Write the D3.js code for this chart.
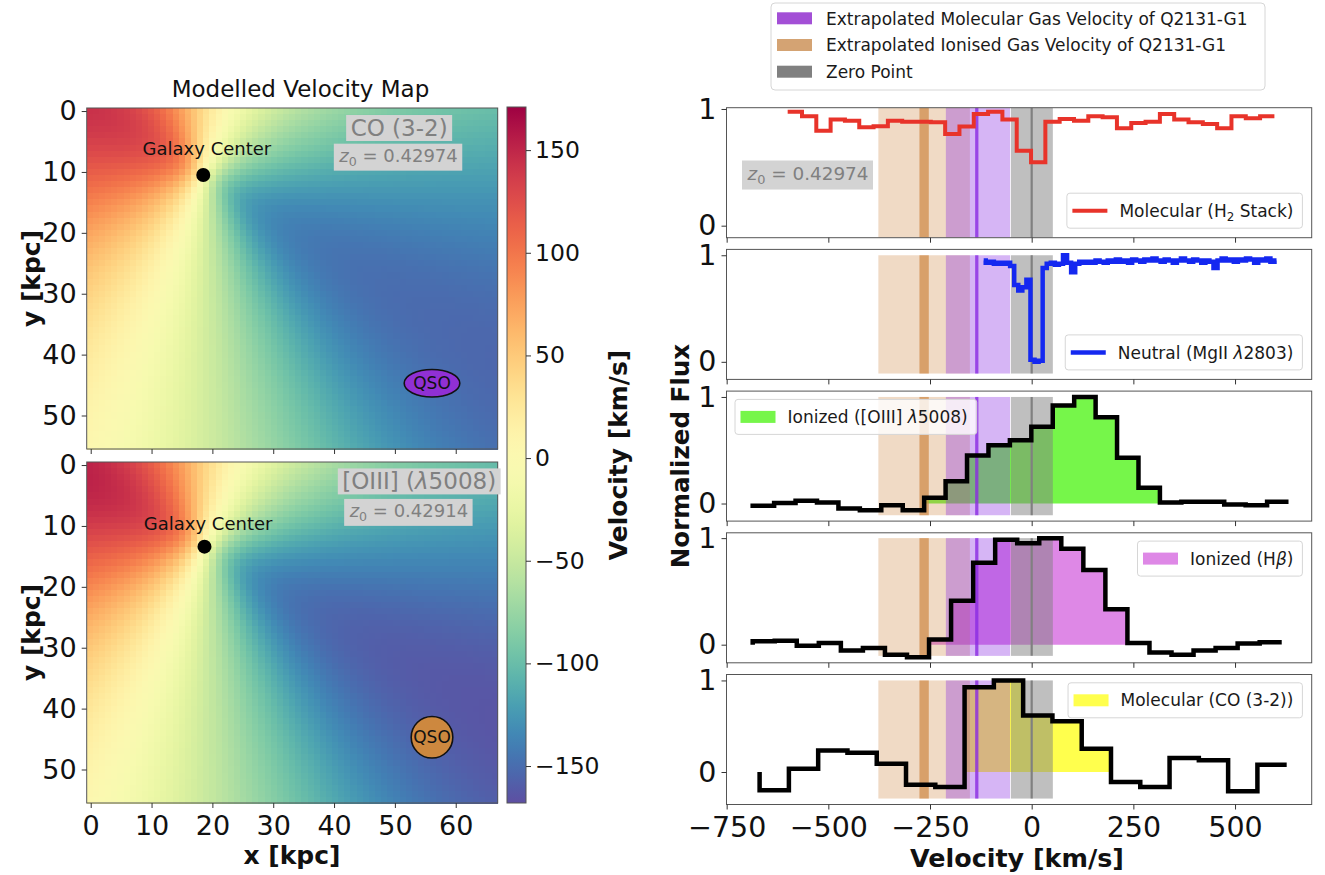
<!DOCTYPE html>
<html>
<head>
<meta charset="utf-8">
<script src="https://cdn.jsdelivr.net/npm/d3@7"></script>
<style>
  body { margin: 0; background: #fff; }
  svg text { font-family: "DejaVu Sans", sans-serif; }
</style>
</head>
<body>
<svg id="fig" width="1325" height="875"></svg>
<script>
/* ---------- Data ---------- */

// modelled disc for the two velocity maps (kpc, deg, km/s)
var mapNames = [[["CO (3-2)", ""]], [["[OIII] (", ""], ["λ", "it"], ["5008)", ""]]];
var mapZ0 = ["0.42974", "0.42914"];
var mapCentre = [[18.5, 10.5], [18.7, 13.4]];
var mapMajorAngle = [32, 30];     // receding->approaching axis, deg below +x
var mapMinorAngle = [110, 112];   // zero-velocity line, deg below +x
var mapInc = [45, 45];
var mapVsini = [160, 172];
var mapRturn = [3.5, 4];
var qsoPos = [56.1, 44.7];
var velRange = [-168, 171];
var cbarTicks = [-150, -100, -50, 0, 50, 100, 150];
var kpcXTicks = [0, 10, 20, 30, 40, 50, 60];
var kpcYTicks = [0, 10, 20, 30, 40, 50];

// spectra: first bin edge, bin width (km/s), normalised flux per bin
var h2Start = -600, h2Width = 35.2;
var h2Flux = [0.977, 0.937, 0.814, 0.91, 0.90, 0.843, 0.851, 0.90, 0.891, 0.891,
              0.886, 0.786, 0.849, 0.957, 0.977, 0.909, 0.643, 0.543, 0.891, 0.914,
              0.90, 0.937, 0.929, 0.834, 0.88, 0.891, 0.957, 0.909, 0.886, 0.871,
              0.834, 0.937, 0.92, 0.937];

var mgStart = -118, mgStep = 10;
var mgFlux = [0.95, 0.93, 0.94, 0.92, 0.93, 0.92, 0.93, 0.90, 0.72, 0.67,
              0.70, 0.77, 0.02, 0.00, 0.01, 0.88, 0.92, 0.93, 0.91, 0.92,
              1.00, 0.93, 0.84, 0.92, 0.94, 0.93, 0.94, 0.93, 0.95, 0.94,
              0.93, 0.95, 0.94, 0.96, 0.94, 0.95, 0.93, 0.96, 0.95, 0.94,
              0.96, 0.95, 0.97, 0.95, 0.94, 0.96, 0.95, 0.93, 0.95, 0.97,
              0.95, 0.94, 0.96, 0.95, 0.93, 0.95, 0.94, 0.88, 0.95, 0.97,
              0.95, 0.96, 0.94, 0.96, 0.95, 0.97, 0.96, 0.93, 0.96, 0.95,
              0.97, 0.94, 0.95];

var oiiiStart = -686, oiiiWidth = 52.7;
var oiiiFlux = [-0.022, 0.006, 0.025, 0.009, -0.047, -0.063, -0.016, -0.063, 0.053, 0.21,
                0.45, 0.547, 0.594, 0.72, 0.92, 1.0, 0.81, 0.43, 0.147, 0.01,
                0.016, 0.016, -0.01, -0.016, 0.016];
var oiiiFillBins = [8, 18];

var hbStart = -686, hbWidth = 54.2;
var hbFlux = [0.032, 0.038, -0.01, 0.016, -0.054, -0.032, -0.095, -0.117, 0.048, 0.413,
              0.77, 0.984, 0.952, 1.0, 0.90, 0.70, 0.333, 0.016, -0.073, -0.095,
              -0.054, -0.032, 0.01, 0.022];
var hbFillBins = [8, 16];

var coStart = -669, coWidth = 72;
var coFlux = [-0.2, 0.036, 0.236, 0.21, 0.09, -0.138, -0.164, 0.927, 1.0, 0.618,
              0.553, 0.255, -0.109, -0.164, 0.153, 0.127, -0.21, 0.08];
var coFillBins = [7, 11];

// shaded velocity ranges (km/s)
var ionisedWide = [-377, -152], ionisedCore = [-276, -253];
var molecularWide = [-211, -53], molecularCore = [-139, -131];
var zeroWide = [-51, 52], zeroPoint = 0;

var velTicks = [-750, -500, -250, 0, 250, 500];

/* ---------- Helpers ---------- */

var svg = d3.select("#fig");

function richText(txt, parts, size) {
  var shift = 0;
  parts.forEach(function(p) {
    var t = txt.append("tspan").text(p[0]);
    var target = p[1] === "sub" ? size * 0.22 : 0;
    if (target !== shift) { t.attr("dy", target - shift); shift = target; }
    if (p[1] === "sub") t.attr("font-size", size * 0.7);
    if (p[1] === "it") t.attr("font-style", "italic");
  });
}

function boxedText(g, x, y, parts, size, padX, padY) {
  var grp = g.append("g");
  var txt = grp.append("text").attr("x", x).attr("y", y)
      .attr("text-anchor", "middle").attr("font-size", size).attr("fill", "#808080");
  richText(txt, parts, size);
  var bb = txt.node().getBBox();
  grp.insert("rect", "text")
      .attr("x", bb.x - padX).attr("y", bb.y - padY)
      .attr("width", bb.width + 2 * padX).attr("height", bb.height + 2 * padY)
      .attr("fill", "#d3d3d3");
}

function styleAxis(g, size) {
  g.select(".domain").remove();
  g.selectAll(".tick line").attr("stroke", "#333");
  g.selectAll(".tick text").attr("font-size", size).attr("fill", "#111");
}

/* ---------- Left: modelled velocity maps ---------- */

var nCols = 67, nRows = 56;
var mapX = d3.scaleLinear().domain([-0.66, 66.9]).range([86.7, 497.7]);
var mapY = [
  d3.scaleLinear().domain([-0.5, 55.5]).range([108, 449]),
  d3.scaleLinear().domain([-0.5, 55.5]).range([462, 803])
];
var cellW = (66.9 + 0.66) / nCols;

var velColor = d3.scaleSequential(function(t) { return d3.interpolateSpectral(1 - t); })
    .domain(velRange).clamp(true);

// arctan rotation curve, projected onto oblique kinematic axes
function discVelocity(m, x, y) {
  var dx = x - mapCentre[m][0], dy = y - mapCentre[m][1];
  var ta = mapMajorAngle[m] * Math.PI / 180, tb = mapMinorAngle[m] * Math.PI / 180;
  var ux = Math.cos(ta), uy = Math.sin(ta), wx = Math.cos(tb), wy = Math.sin(tb);
  var det = ux * wy - wx * uy;
  var a = (dx * wy - wx * dy) / det;
  var b = (ux * dy - uy * dx) / det / Math.cos(mapInc[m] * Math.PI / 180);
  var r = Math.sqrt(a * a + b * b);
  if (r === 0) return 0;
  return -mapVsini[m] * (2 / Math.PI) * Math.atan(r / mapRturn[m]) * a / r;
}

[0, 1].forEach(function(m) {
  var y = mapY[m];
  var g = svg.append("g");
  var cells = [];
  for (var j = 0; j < nRows; j++) {
    for (var i = 0; i < nCols; i++) {
      var x0 = -0.66 + i * cellW;
      cells.push({ x0: x0, y0: j - 0.5, v: discVelocity(m, x0 + cellW / 2, j) });
    }
  }
  g.selectAll("rect.cell").data(cells).enter().append("rect")
      .attr("class", "cell")
      .attr("x", function(d) { return mapX(d.x0); })
      .attr("y", function(d) { return y(d.y0); })
      .attr("width", mapX(cellW) - mapX(0) + 0.6)
      .attr("height", y(1) - y(0) + 0.6)
      .attr("fill", function(d) { return velColor(d.v); })
      .attr("shape-rendering", "crispEdges");

  // frame
  g.append("rect")
      .attr("x", mapX.range()[0]).attr("y", y.range()[0])
      .attr("width", mapX.range()[1] - mapX.range()[0])
      .attr("height", y.range()[1] - y.range()[0])
      .attr("fill", "none").attr("stroke", "#555").attr("stroke-width", 1);

  // axes
  var ax = g.append("g").attr("transform", "translate(" + mapX.range()[0] + ",0)")
      .call(d3.axisLeft(y).tickValues(kpcYTicks).tickSize(5).tickPadding(5));
  styleAxis(ax, 27);
  var bx = g.append("g").attr("transform", "translate(0," + y.range()[1] + ")")
      .call(d3.axisBottom(mapX).tickValues(kpcXTicks).tickSize(5).tickPadding(8));
  styleAxis(bx, 27);
  if (m === 0) bx.selectAll(".tick text").remove();

  // galaxy centre
  var c = mapCentre[m];
  g.append("circle").attr("cx", mapX(c[0])).attr("cy", y(c[1])).attr("r", 7).attr("fill", "#000");
  g.append("text").attr("x", mapX(c[0] + 0.6)).attr("y", y(c[1] - (m === 0 ? 3.3 : 2.7)))
      .attr("text-anchor", "middle").attr("font-size", 18).attr("fill", "#111")
      .text("Galaxy Center");

  // QSO marker
  if (m === 0) {
    g.append("ellipse").attr("cx", mapX(qsoPos[0])).attr("cy", y(qsoPos[1]))
        .attr("rx", 27.8).attr("ry", 13.7)
        .attr("fill", "#9030d4").attr("stroke", "#111").attr("stroke-width", 1.6);
  } else {
    g.append("circle").attr("cx", mapX(qsoPos[0])).attr("cy", y(qsoPos[1]))
        .attr("r", 20.8)
        .attr("fill", "#cd883f").attr("stroke", "#111").attr("stroke-width", 1.6);
  }
  g.append("text").attr("x", mapX(qsoPos[0])).attr("y", y(qsoPos[1]) + 6)
      .attr("text-anchor", "middle").attr("font-size", 17).attr("fill", "#111").text("QSO");

  // line label and systemic redshift
  if (m === 0) {
    boxedText(g, mapX(50.7), y(4.1), mapNames[0], 23, 4.5, 0);
    boxedText(g, mapX(50.6), y(8.4), [["z", "it"], ["0", "sub"], [" = " + mapZ0[0], ""]], 18, 4.5, 1.5);
  } else {
    boxedText(g, mapX(54.0), y(4.0), mapNames[1], 23, 4.5, 0);
    boxedText(g, mapX(52.3), y(8.6), [["z", "it"], ["0", "sub"], [" = " + mapZ0[1], ""]], 18, 4.5, 1.5);
  }

  // y label
  var yc = (y.range()[0] + y.range()[1]) / 2;
  g.append("text").attr("transform", "translate(40," + yc + ") rotate(-90)")
      .attr("text-anchor", "middle").attr("font-size", 25).attr("font-weight", "bold")
      .attr("fill", "#111").text("y [kpc]");
});

svg.append("text").attr("x", 300.5).attr("y", 97).attr("text-anchor", "middle")
    .attr("font-size", 23).attr("fill", "#111").text("Modelled Velocity Map");
svg.append("text").attr("x", 292).attr("y", 864).attr("text-anchor", "middle")
    .attr("font-size", 25).attr("font-weight", "bold").attr("fill", "#111").text("x [kpc]");

// colour bar
var cbY = d3.scaleLinear().domain(velRange).range([803, 107]);
var grad = svg.append("defs").append("linearGradient").attr("id", "cbgrad")
    .attr("x1", 0).attr("y1", 1).attr("x2", 0).attr("y2", 0);
d3.range(0, 1.0001, 0.02).forEach(function(t) {
  grad.append("stop").attr("offset", t)
      .attr("stop-color", velColor(velRange[0] + t * (velRange[1] - velRange[0])));
});
svg.append("rect").attr("x", 507).attr("y", 107).attr("width", 19).attr("height", 696)
    .attr("fill", "url(#cbgrad)").attr("stroke", "#555").attr("stroke-width", 1);
var cax = svg.append("g").attr("transform", "translate(526,0)")
    .call(d3.axisRight(cbY).tickValues(cbarTicks).tickSize(5).tickPadding(4));
styleAxis(cax, 23.5);
svg.append("text").attr("transform", "translate(627,455) rotate(-90)")
    .attr("text-anchor", "middle").attr("font-size", 25).attr("font-weight", "bold")
    .attr("fill", "#111").text("Velocity [km/s]");

/* ---------- Right: spectra ---------- */

var vx = d3.scaleLinear().domain([-750.4, 688.5]).range([726.5, 1311.7]);
var panelTop = 107.7, panelStep = 141.7, panelH = 130;

function binPoints(start, width, flux, leadZero) {
  var pts = [];
  if (leadZero) pts.push([start, 0]);
  flux.forEach(function(f, i) { pts.push([start + i * width, f]); });
  pts.push([start + flux.length * width, flux[flux.length - 1]]);
  return pts;
}

var panels = [
  { pts: binPoints(h2Start, h2Width, h2Flux, false), curve: d3.curveStepAfter,
    color: "#e8332a", lw: 4, yDom: [-0.103, 1.011], band: [-0.103, 1.011],
    legend: { loc: "lower right", kind: "line", parts: [["Molecular (H", ""], ["2", "sub"], [" Stack)", ""]] } },
  { pts: mgFlux.map(function(f, i) { return [mgStart + i * mgStep, f]; }), curve: d3.curveStep,
    color: "#1428f0", lw: 4.5, yDom: [-0.165, 1.055], band: [-0.11, 1],
    legend: { loc: "lower right", kind: "line", parts: [["Neutral (MgII ", ""], ["λ", "it"], ["2803)", ""]] } },
  { pts: binPoints(oiiiStart, oiiiWidth, oiiiFlux, true), curve: d3.curveStepAfter,
    color: "#000", lw: 4.5, yDom: [-0.165, 1.055], band: [-0.11, 1],
    fill: { color: "#76f64a", start: oiiiStart, width: oiiiWidth, flux: oiiiFlux, bins: oiiiFillBins },
    legend: { loc: "upper left", kind: "patch", color: "#76f64a", parts: [["Ionized ([OIII] ", ""], ["λ", "it"], ["5008)", ""]] } },
  { pts: binPoints(hbStart, hbWidth, hbFlux, true), curve: d3.curveStepAfter,
    color: "#000", lw: 4.5, yDom: [-0.17, 1.05], band: [-0.105, 1],
    fill: { color: "#de88e6", start: hbStart, width: hbWidth, flux: hbFlux, bins: hbFillBins },
    legend: { loc: "upper right", kind: "patch", color: "#de88e6", parts: [["Ionized (H", ""], ["β", "it"], [")", ""]] } },
  { pts: binPoints(coStart, coWidth, coFlux, true), curve: d3.curveStepAfter,
    color: "#000", lw: 4.5, yDom: [-0.355, 1.065], band: [-0.29, 1],
    fill: { color: "#ffff4d", start: coStart, width: coWidth, flux: coFlux, bins: coFillBins },
    legend: { loc: "upper right", kind: "patch", color: "#ffff4d", parts: [["Molecular (CO (3-2))", ""]] } }
];

var defs = svg.select("defs");

panels.forEach(function(p, k) {
  var top = panelTop + k * panelStep, bottom = top + panelH;
  var y = d3.scaleLinear().domain(p.yDom).range([bottom, top]);
  defs.append("clipPath").attr("id", "clip" + k).append("rect")
      .attr("x", vx.range()[0]).attr("y", top)
      .attr("width", vx.range()[1] - vx.range()[0]).attr("height", panelH);
  var g = svg.append("g");
  var inner = g.append("g").attr("clip-path", "url(#clip" + k + ")");

  // emission fill
  if (p.fill) {
    var f = p.fill, fp = [];
    for (var i = f.bins[0]; i <= f.bins[1]; i++) fp.push([f.start + i * f.width, f.flux[i]]);
    fp.push([f.start + (f.bins[1] + 1) * f.width, f.flux[f.bins[1]]]);
    inner.append("path").datum(fp)
        .attr("d", d3.area().curve(d3.curveStepAfter)
            .x(function(d) { return vx(d[0]); }).y0(y(0)).y1(function(d) { return y(d[1]); }))
        .attr("fill", f.color);
  }

  // shaded velocity ranges
  function band(r, color, op) {
    inner.append("rect").attr("x", vx(r[0])).attr("width", vx(r[1]) - vx(r[0]))
        .attr("y", y(p.band[1])).attr("height", y(p.band[0]) - y(p.band[1]))
        .attr("fill", color).attr("fill-opacity", op);
  }
  band(ionisedWide, "#cd853f", 0.3);
  band(ionisedCore, "#cd853f", 0.68);
  band(molecularWide, "#8a2be2", 0.35);
  band(molecularCore, "#8a2be2", 0.8);
  band(zeroWide, "#808080", 0.5);
  inner.append("line").attr("x1", vx(zeroPoint)).attr("x2", vx(zeroPoint))
      .attr("y1", y(p.band[1])).attr("y2", y(p.band[0]))
      .attr("stroke", "#808080").attr("stroke-width", 2.2);

  // spectrum
  inner.append("path").datum(p.pts)
      .attr("d", d3.line().curve(p.curve)
          .x(function(d) { return vx(d[0]); }).y(function(d) { return y(d[1]); }))
      .attr("fill", "none").attr("stroke", p.color).attr("stroke-width", p.lw);

  // legend
  var L = p.legend, fs = 17;
  var lg = g.append("g");
  var txt = lg.append("text").attr("font-size", fs).attr("fill", "#1a1a1a");
  richText(txt, L.parts, fs);
  var tw = txt.node().getBBox().width;
  var bw = 5.5 + 35 + 12 + tw + 9, bh = 35;
  var bx0 = L.loc.indexOf("left") >= 0 ? vx.range()[0] + 8.5 : vx.range()[1] - 9.3 - bw;
  var by0 = L.loc.indexOf("upper") >= 0 ? top + 8.3 : bottom - 9.5 - bh;
  lg.insert("rect", "text").attr("x", bx0).attr("y", by0).attr("width", bw).attr("height", bh)
      .attr("rx", 3).attr("fill", "#fff").attr("fill-opacity", 0.8)
      .attr("stroke", "#d6d6d6").attr("stroke-width", 1);
  var cy = by0 + bh / 2;
  if (L.kind === "line") {
    lg.append("line").attr("x1", bx0 + 5.5).attr("x2", bx0 + 40.5).attr("y1", cy).attr("y2", cy)
        .attr("stroke", p.color).attr("stroke-width", p.lw);
  } else {
    lg.append("rect").attr("x", bx0 + 5.5).attr("y", cy - 6).attr("width", 35).attr("height", 12)
        .attr("fill", L.color);
  }
  txt.attr("x", bx0 + 5.5 + 35 + 12).attr("y", cy + fs * 0.36);

  // frame and axes
  g.append("rect").attr("x", vx.range()[0]).attr("y", top)
      .attr("width", vx.range()[1] - vx.range()[0]).attr("height", panelH)
      .attr("fill", "none").attr("stroke", "#555").attr("stroke-width", 1);
  var ay = g.append("g").attr("transform", "translate(" + vx.range()[0] + ",0)")
      .call(d3.axisLeft(y).tickValues([0, 1]).tickSize(5).tickPadding(5).tickFormat(d3.format("d")));
  styleAxis(ay, 28.5);
  var axb = g.append("g").attr("transform", "translate(0," + bottom + ")")
      .call(d3.axisBottom(vx).tickValues(velTicks).tickSize(5).tickPadding(7.5));
  styleAxis(axb, 28.5);
  if (k < panels.length - 1) axb.selectAll(".tick text").remove();

  // systemic redshift box on the first panel
  if (k === 0) {
    boxedText(g, 808, 180, [["z", "it"], ["0", "sub"], [" = " + mapZ0[0], ""]], 18.4, 4.5, 2.5);
  }
});

svg.append("text").attr("transform", "translate(689,456) rotate(-90)")
    .attr("text-anchor", "middle").attr("font-size", 24.6).attr("font-weight", "bold")
    .attr("fill", "#111").text("Normalized Flux");
svg.append("text").attr("x", 1017).attr("y", 867).attr("text-anchor", "middle")
    .attr("font-size", 25.4).attr("font-weight", "bold").attr("fill", "#111").text("Velocity [km/s]");

// figure legend
var legendItems = [
  { label: "Extrapolated Molecular Gas Velocity of Q2131-G1", color: "#a34fd6" },
  { label: "Extrapolated Ionised Gas Velocity of Q2131-G1", color: "#d4a373" },
  { label: "Zero Point", color: "#808080" }
];
var fl = svg.append("g");
fl.append("rect").attr("x", 771).attr("y", 3).attr("width", 494).attr("height", 87)
    .attr("rx", 4).attr("fill", "#fff").attr("stroke", "#d6d6d6");
legendItems.forEach(function(d, i) {
  var cy = 18.3 + i * 26.7;
  fl.append("rect").attr("x", 777).attr("y", cy - 6).attr("width", 35).attr("height", 12).attr("fill", d.color);
  fl.append("text").attr("x", 826).attr("y", cy + 6.2).attr("font-size", 17).attr("fill", "#1a1a1a").text(d.label);
});
</script>
</body>
</html>
